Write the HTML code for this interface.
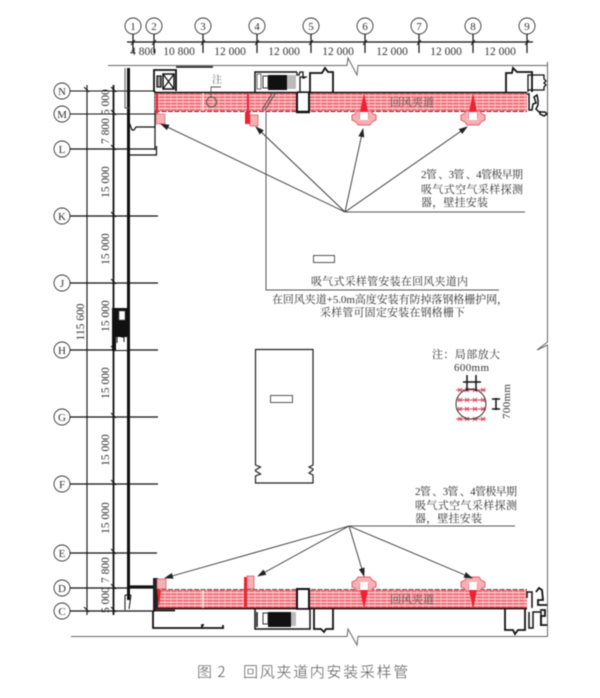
<!DOCTYPE html>
<html><head><meta charset="utf-8"><style>
html,body{margin:0;padding:0;background:#fff}
svg{display:block;filter:blur(.4px)}
.c{font-family:"Liberation Serif","Noto Serif CJK SC",serif;fill:#333}
</style></head><body>
<svg width="600" height="698" viewBox="0 0 600 698" xmlns="http://www.w3.org/2000/svg">
<defs>
<pattern id="h" width="6" height="3.2" patternUnits="userSpaceOnUse" y="93">
<rect width="6" height="3.2" fill="#fbe0e0"/>
<rect y="0" width="6" height="2.1" fill="#ef6a74"/>
<rect x="2.500" width=".8" height="2.1" fill="#f9b8bc"/>
</pattern>
<pattern id="h2" width="6" height="3.2" patternUnits="userSpaceOnUse" y="590">
<rect width="6" height="3.2" fill="#fbe0e0"/>
<rect y="0" width="6" height="2.1" fill="#ef6a74"/>
<rect x="2.500" width=".8" height="2.1" fill="#f9b8bc"/>
</pattern>
<marker id="a" markerWidth="9" markerHeight="6" refX="8" refY="3" orient="auto" markerUnits="userSpaceOnUse"><path d="M0 0L9 3L0 6Z" fill="#222"/></marker>
<g id="det">
<path d="M-4 17 H4 V27 H-4 Z" fill="#fff"/>
<path d="M-.5 0H.5L4 17 H-4Z" fill="#ee2233"/>
<path d="M-7 16h3v7h8v-7h3l2 3 3 1 0 5-4 2-2 3h-12l-2-3-4-2 0-5 3-1z" fill="#f7b0b5" stroke="#e8606a" stroke-width="1"/>
<rect x="-4" y="17" width="8" height="8" fill="#fff"/>
</g>
</defs>

<!-- frame -->
<g fill="none" stroke="#666" stroke-width="1">
<path d="M108 65.500H347L348 58L357 75L358 65.500H547"/>
<path d="M547.500 62V342L537 350L547.500 345V636.500"/>
<path d="M71 636.500H347L348 629L357 645L358 636.500H547.500"/>
</g>

<!-- top dim -->
<g stroke="#111" fill="none">
<path d="M127 42H533" stroke-width="1.200"/>
<path d="M133 34V53M154 34V53M203 34V53M257 34V53M311 34V53M365 34V53M419 34V53M473 34V53M527 34V53" stroke-width="1.200"/>
<path d="M131 45l4-5M152 45l4-5M201 45l4-5M255 45l4-5M309 45l4-5M363 45l4-5M417 45l4-5M471 45l4-5M525 45l4-5" stroke-width="1"/>
</g>
<g fill="#fff" stroke="#333" stroke-width=".9">
<circle cx="133" cy="26" r="8"/><circle cx="154" cy="26" r="8"/><circle cx="203" cy="26" r="8"/><circle cx="257" cy="26" r="8"/><circle cx="311" cy="26" r="8"/><circle cx="365" cy="26" r="8"/><circle cx="419" cy="26" r="8"/><circle cx="473" cy="26" r="8"/><circle cx="527" cy="26" r="8"/>
<circle cx="62" cy="91" r="8"/><circle cx="62" cy="114" r="8"/><circle cx="62" cy="149" r="8"/><circle cx="62" cy="216" r="8"/><circle cx="62" cy="283" r="8"/><circle cx="62" cy="350" r="8"/><circle cx="62" cy="417" r="8"/><circle cx="62" cy="484" r="8"/><circle cx="62" cy="553" r="8"/><circle cx="62" cy="588" r="8"/><circle cx="62" cy="611" r="8"/>
</g>
<g class="c" font-size="11" text-anchor="middle">
<text x="133" y="30">1</text><text x="154" y="30">2</text><text x="203" y="30">3</text><text x="257" y="30">4</text><text x="311" y="30">5</text><text x="365" y="30">6</text><text x="419" y="30">7</text><text x="473" y="30">8</text><text x="527" y="30">9</text>
<text x="62" y="95">N</text><text x="62" y="118">M</text><text x="62" y="153">L</text><text x="62" y="220">K</text><text x="62" y="287">J</text><text x="62" y="354">H</text><text x="62" y="421">G</text><text x="62" y="488">F</text><text x="62" y="557">E</text><text x="62" y="592">D</text><text x="62" y="615">C</text>
</g>
<g class="c" font-size="11.500" text-anchor="middle">
<text x="143" y="55">4 800</text><text x="179" y="55">10 800</text><text x="230" y="55">12 000</text><text x="284" y="55">12 000</text><text x="338" y="55">12 000</text><text x="392" y="55">12 000</text><text x="446" y="55">12 000</text><text x="500" y="55">12 000</text>
</g>

<!-- row axes -->
<g stroke="#111" fill="none" stroke-width="1">
<path d="M70 91H155M70 114H155" />
<path d="M70 149H155M70 216H158M70 283H158M70 350H158M70 417H158M70 484H158M70 553H157M70 588H155M70 611H155" stroke-width="1.200"/>
<path d="M87 85V615" stroke-width="1.100"/>
<path d="M113.500 85V615" stroke-width="1.800"/>
<path d="M84 87l5 5M111 87l5 5M111 110l5 5M111 145l5 5M111 212l5 5M111 279l5 5M111 346l5 5M111 413l5 5M111 480l5 5M111 549l5 5M111 584l5 5M84 607l5 5M111 607l5 5"/>
</g>
<g class="c" font-size="11.500" text-anchor="middle">
<text transform="translate(109,102) rotate(-90)">5 000</text>
<text transform="translate(109,131) rotate(-90)">7 800</text>
<text transform="translate(109,182) rotate(-90)">15 000</text>
<text transform="translate(109,249) rotate(-90)">15 000</text>
<text transform="translate(109,316) rotate(-90)">15 000</text>
<text transform="translate(109,383) rotate(-90)">15 000</text>
<text transform="translate(109,450) rotate(-90)">15 000</text>
<text transform="translate(109,518) rotate(-90)">15 000</text>
<text transform="translate(109,570) rotate(-90)">7 800</text>
<text transform="translate(109,600) rotate(-90)">5 000</text>
<text transform="translate(84,322) rotate(-90)">115 600</text>
</g>

<!-- left wall -->
<g fill="none" stroke="#111">
<path d="M128.500 68V600" stroke-width="3"/>
<path d="M125 68V92M125 92V108h4" stroke="#555" stroke-width="1"/>
<path d="M129 122l3 8h2l2-3H155" stroke-width="1.200"/>
<path d="M129 155H156.500V146" stroke-width="1.200"/>
<path d="M155 91V150" stroke-width="1.200"/>
<path d="M130 586.500H155" stroke-width="2.200"/>
<path d="M125 595h6M125 595V610M131 595l-2 14" stroke-width="1"/>
</g>
<rect x="112" y="308" width="17" height="15" fill="#111"/>
<rect x="112" y="323" width="15" height="28" fill="#111"/>
<rect x="119" y="311" width="6" height="9" fill="#fff" stroke="#555" stroke-width=".6"/>
<rect x="116" y="337" width="11" height="13" fill="#fff"/>
<path d="M117 337v6M121 337h3v5" stroke="#111" fill="none"/>

<!-- top bands -->
<rect x="155" y="93" width="372" height="18" fill="url(#h)"/>
<path d="M155 111.500H527" stroke="#8a1f28" stroke-width="1" stroke-dasharray="5 1.500"/>
<path d="M155 92.500H527" stroke="#111" stroke-width="1.500"/>
<rect x="202.500" y="93" width="1.200" height="18" fill="#fff"/>
<rect x="296" y="93" width="14" height="20" fill="#fff"/>
<path d="M297 93V113M309 93V113" stroke="#111" stroke-width="2"/>
<path d="M296 112h14" stroke="#111" stroke-width="2.500"/>
<!-- top structures -->
<g fill="none" stroke="#111">
<path d="M154 92V70H176V91" stroke-width="1.800"/>
<path d="M176 67H213" stroke-width="1.500"/>
<rect x="163" y="74" width="11" height="15" stroke-width="1.500"/>
<path d="M163 74L174 89M174 74L163 89" stroke-width="1.200"/>
<rect x="157" y="76" width="4" height="11" fill="#999" stroke-width="1.200"/>
<path d="M255 92V72H297" stroke-width="1.500"/>
<path d="M297 72v3h2l1-3h3v6h2M300 92V77h7M297 92h13" stroke-width="1.300"/>
<path d="M310 92V73h5M315 73h7L325 68L328 72H333V92" stroke-width="1.800"/>
<path d="M506 92V73H512L513 68L517 72H532V92" stroke-width="1.800"/>
<path d="M528 92V75H544V79l2 2-2 2 2 2-2 2V90H528" stroke-width="1.300"/>
<path d="M527 94h2V110h3l1-6 3-1-2-6 3-2 1 5v5l-2 4 3 3h6l2 2-3 2-4-2v-3" stroke-width="1.500"/>
</g>
<rect x="268" y="75" width="19" height="15" fill="#111"/>
<rect x="263" y="76" width="5" height="12" fill="#fff" stroke="#333"/>
<rect x="257" y="74" width="4" height="15" fill="#fff" stroke="#333" stroke-width=".7"/>
<rect x="287" y="75" width="9" height="14" fill="#bbb"/>
<g fill="none" stroke="#555">
<circle cx="211.500" cy="102" r="5" stroke-width="1"/>
<path d="M211 97V87H221" stroke-width=".9"/>
</g>
<text class="c" x="212" y="83" font-size="10" style="fill:#666">注</text>
<path d="M262 110L273 92M265 110L276 92" stroke="#444" stroke-width=".9"/>
<text class="c" x="390" y="106" font-size="11" style="fill:#555">回风夹道</text>

<!-- top detectors -->
<rect x="156" y="94" width="2" height="20" fill="#ee2233"/>
<rect x="156" y="114" width="9" height="10" fill="#f5b0b4" stroke="#e0606a" stroke-width=".7"/>
<rect x="247" y="94" width="2" height="18" fill="#ee2233"/>
<rect x="245" y="112" width="5" height="12" fill="#ee2233"/>
<rect x="250" y="115" width="8" height="11" fill="#f5b0b4" stroke="#d05055" stroke-width=".7"/>
<use href="#det" x="364" y="95"/>
<use href="#det" x="473" y="95"/>

<!-- bottom bands -->
<rect x="155" y="590" width="372" height="18" fill="url(#h2)"/>
<path d="M155 589.500H527" stroke="#222" stroke-width=".8" stroke-dasharray="5 1.500"/>
<path d="M153 608.500H527" stroke="#3a0a0a" stroke-width="1.800"/>
<rect x="202.500" y="590" width="1.200" height="18" fill="#fff"/>
<rect x="296" y="588" width="14" height="20" fill="#fff"/>
<path d="M297 589V609M309 589V609M296 589h14" stroke="#111" stroke-width="2"/>
<text class="c" x="390" y="603" font-size="11" style="fill:#555">回风夹道</text>
<rect x="153" y="578" width="2.500" height="33" fill="#222"/>
<rect x="155" y="578" width="3" height="30" fill="#222"/>
<path d="M157 590L159 608L161 590Z" fill="#ee2233"/>
<rect x="157" y="579" width="9" height="10" fill="#f5b0b4" stroke="#d05055" stroke-width=".7"/>
<rect x="244" y="577" width="3" height="30" fill="#ee2233"/>
<rect x="247" y="576" width="7" height="13" fill="#f5b0b4" stroke="#d05055" stroke-width=".7"/>
<g transform="translate(364,607) scale(1,-1)"><use href="#det"/></g>
<g transform="translate(473,607) scale(1,-1)"><use href="#det"/></g>

<!-- bottom structures -->
<g fill="none" stroke="#111">
<path d="M153 611V628H223M202 628V625H204M223 625V629" stroke-width="1.800"/>
<path d="M153 610.500H175" stroke-width="1.800"/>
<path d="M255 609V629H296M257 612V627" stroke-width="1.500"/>
<path d="M296 609H310V629H296" stroke-width="1.500"/>
<path d="M333 609V629H326L324 632L321 629H314V609" stroke-width="1.800"/>
<path d="M505 609V630H513L515 634L518 630H525V609" stroke-width="1.800"/>
<path d="M529 612V628H533V612H541V626M527 598V592H532V608" stroke-width="1.500"/>
<path d="M536 592l3-4 3 2 1 10h-5v5h9M540 610h5v6h-4v9h6" stroke-width="1.800"/>
</g>
<rect x="268" y="612" width="23" height="15" fill="#111"/>
<rect x="263" y="613" width="5" height="11" fill="#fff" stroke="#333"/>
<rect x="291" y="612" width="5" height="14" fill="#bbb"/>

<!-- leaders top -->
<g stroke="#333" stroke-width=".9" fill="none">
<path d="M345 212L161 124" marker-end="url(#a)"/>
<path d="M345 212L256 127" marker-end="url(#a)"/>
<path d="M345 212L363 129" marker-end="url(#a)"/>
<path d="M345 212L467 127" marker-end="url(#a)"/>
<path d="M345 212H525" stroke="#555" stroke-width="1"/>
<path d="M266 111V290H499" stroke="#555" stroke-width="1"/>
</g>
<!-- leaders bottom -->
<g stroke="#333" stroke-width=".9" fill="none">
<path d="M349 526L165 578" marker-end="url(#a)"/>
<path d="M349 526L258 576" marker-end="url(#a)"/>
<path d="M349 526L364 576" marker-end="url(#a)"/>
<path d="M349 526L472 578" marker-end="url(#a)"/>
<path d="M349 526H515" stroke="#555" stroke-width="1"/>
</g>

<!-- labels -->
<g class="c" font-size="11">
<text x="421" y="178" textLength="102">2管 、3管 、4管极早期</text>
<text x="421" y="193" textLength="102">吸气式空气采样探测</text>
<text x="421" y="206" textLength="67">器，壁挂安装</text>
<text x="311" y="285" textLength="157">吸气式采样管安装在回风夹道内</text>
<text x="272" y="303" textLength="236">在回风夹道+5.0m高度安装有防掉落钢格栅护网，</text>
<text x="320" y="316" textLength="145">采样管可固定安装在钢格栅下</text>
<text x="415" y="495" textLength="102">2管 、3管 、4管极早期</text>
<text x="415" y="509" textLength="102">吸气式空气采样探测</text>
<text x="415" y="522" textLength="67">器，壁挂安装</text>
<text x="432" y="358" textLength="68">注：局部放大</text>
<text x="454" y="371" textLength="35">600mm</text>
<text transform="translate(510,419) rotate(-90)" textLength="35">700mm</text>
</g>
<rect x="313.500" y="255.500" width="21" height="7" fill="#fff" stroke="#555"/>

<!-- center building -->
<path d="M255.500 349.500H313V465l-4 2 4 2 0 1-4 3 4 2V483H255.500V476l5-2-5-3 0-1 5-3-5-2Z" fill="#fff" stroke="#222" stroke-width="1.200"/>
<rect x="270.500" y="395.500" width="22" height="7" fill="#fff" stroke="#555"/>

<!-- note detail -->
<g stroke="#d4506a" stroke-width="1" fill="none">
<path d="M456 390H486M456 400H486M456 409H486M456 419H486" stroke-width="1"/>
<path d="M458 388l4 4M462 388l-4 4M465 388l4 4M469 388l-4 4M473 388l4 4M477 388l-4 4M481 388l4 4M485 388l-4 4
M458 398l4 4M462 398l-4 4M465 398l4 4M469 398l-4 4M473 398l4 4M477 398l-4 4M481 398l4 4M485 398l-4 4
M458 407l4 4M462 407l-4 4M465 407l4 4M469 407l-4 4M473 407l4 4M477 407l-4 4M481 407l4 4M485 407l-4 4
M458 417l4 4M462 417l-4 4M465 417l4 4M469 417l-4 4M473 417l4 4M477 417l-4 4M481 417l4 4M485 417l-4 4"/>
</g>
<circle cx="471" cy="404" r="15" fill="none" stroke="#333" stroke-width="1"/>
<path d="M467 375V391M476 375V391M463 382H481" stroke="#111" stroke-width="1.500" fill="none"/>
<path d="M492 399H500M492 409H500M496 398V410" stroke="#111" stroke-width="1.500" fill="none"/>

<!-- caption -->
<text x="197" y="677" font-family="'Noto Sans CJK SC','Liberation Sans',sans-serif" font-size="15" font-weight="300" fill="#555" letter-spacing="1">图 2<tspan x="243" letter-spacing="1.700">回风夹道内安装采样管</tspan></text>
</svg>
</body></html>
